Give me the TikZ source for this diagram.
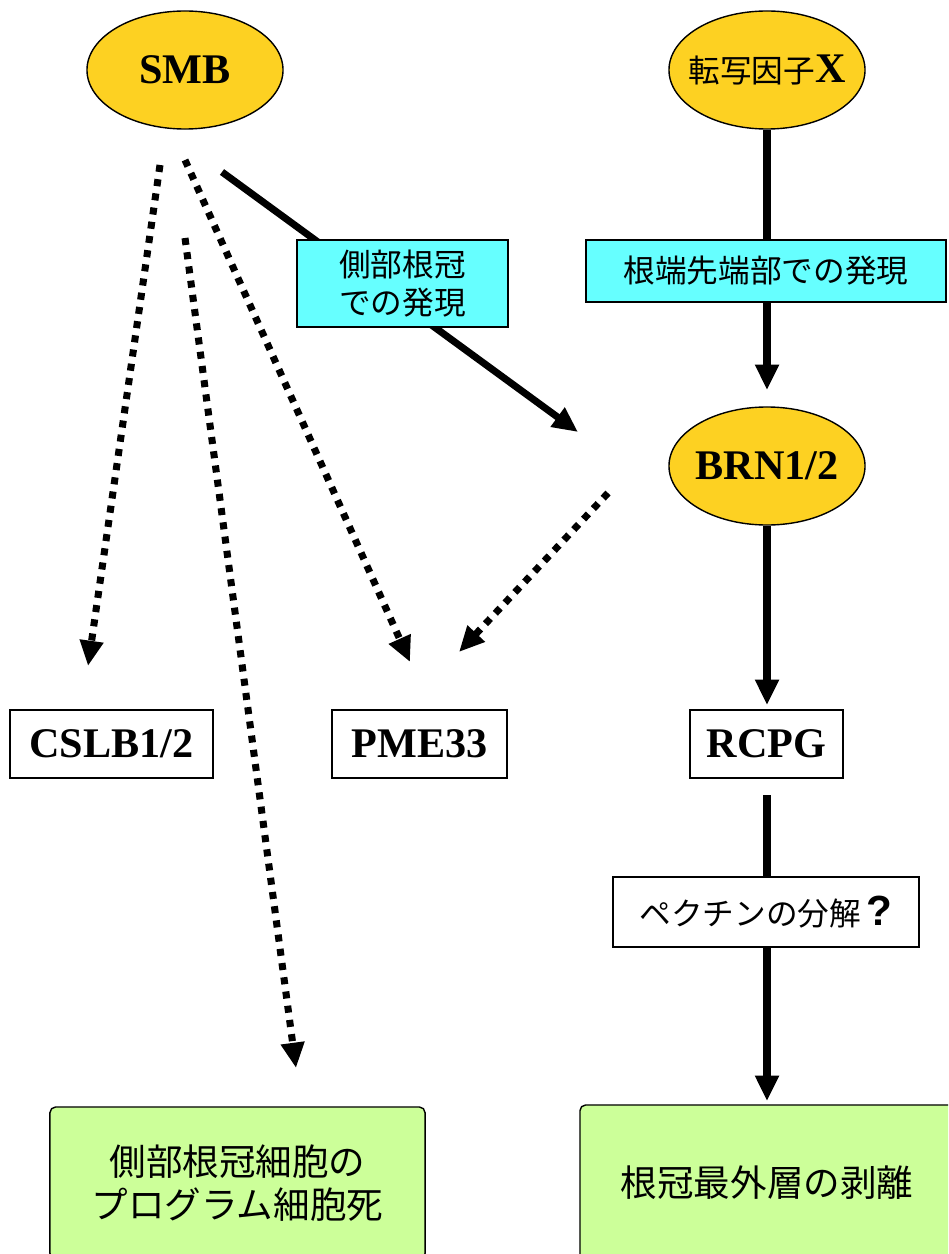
\documentclass[tikz,border=0pt]{standalone}
\usepackage{fontspec}
\setmainfont{Liberation Serif}
\newfontfamily\jp{Noto Sans CJK JP}
\newfontfamily\qsans{Liberation Sans}
\usetikzlibrary{shapes.geometric,arrows.meta}
\definecolor{gold}{HTML}{FDD122}
\definecolor{cyanbox}{HTML}{66FFFF}
\definecolor{greenbox}{HTML}{CCFF99}
\begin{document}
\begin{tikzpicture}[x=0.025cm,y=-0.025cm,
  gene/.style={ellipse, draw, line width=1pt, fill=gold, minimum width=4.9cm, minimum height=2.95cm, inner sep=0pt, font=\fontsize{30}{36}\selectfont\bfseries},
  genebox/.style={draw, line width=0.9pt, fill=white, minimum height=1.7cm, inner sep=0pt, font=\fontsize{30}{36}\selectfont\bfseries},
  expr/.style={draw, line width=2pt, fill=cyanbox, inner sep=0pt, align=center, font=\jp\fontsize{22.5}{26.5}\selectfont},
  pectin/.style={draw, line width=2pt, fill=white, inner sep=0pt, font=\jp\fontsize{22.5}{26.5}\selectfont},
  outcome/.style={draw, line width=1pt, fill=greenbox, rounded corners=4pt, inner sep=0pt, align=center, font=\jp\fontsize{26}{31}\selectfont},
  solidarrow/.style={line width=5pt, -{Triangle[length=18pt,width=16pt]}},
  dotarrow/.style={line width=5pt, dash pattern=on 5pt off 5.2pt, -{Triangle[length=18pt,width=16pt]}}
]
\useasboundingbox (0,0) rectangle (948,1254);
\clip (0,0) rectangle (948,1254);

% ellipses
\node[gene] (smb) at (185,70) {\makebox[0pt]{SMB}};
\node[gene] (tfx) at (767,70) {\makebox[0pt]{{\jp\fontsize{22.5}{27}\selectfont\mdseries 転写因子}X}};
\node[gene] (brn) at (767,466) {\makebox[0pt]{BRN1/2}};

% free connector ends
\coordinate (smbS) at (222,172);
\coordinate (smbSend) at (578,432);
\coordinate (xEnd) at (767,390);
\coordinate (brnEnd) at (767,705);
\coordinate (d1s) at (160,165);
\coordinate (d1e) at (88,666);
\coordinate (d2s) at (185,160);
\coordinate (d2e) at (410,662);
\coordinate (d3s) at (185,238);
\coordinate (d3e) at (296,1068);
\coordinate (d4s) at (608,493);
\coordinate (d4e) at (459,652);
\coordinate (rcpgS) at (767,795);
\coordinate (rcpgEnd) at (767,1101);

% solid connectors (drawn under label boxes)
\draw[solidarrow] (smbS) -- (smbSend);
\draw[solidarrow] (tfx.south) -- (xEnd);
\draw[solidarrow] (brn.south) -- (brnEnd);
\draw[solidarrow] (rcpgS) -- (rcpgEnd);

% dotted connectors
\draw[dotarrow] (d1s) -- (d1e);
\draw[dotarrow] (d2s) -- (d2e);
\draw[dotarrow] (d3s) -- (d3e);
\draw[dotarrow] (d4s) -- (d4e);

% expression boxes
\node[expr, minimum width=5.275cm, minimum height=2.175cm] (lat) at (402.5,283.5) {側部根冠\\での発現};
\node[expr, minimum width=9cm, minimum height=1.55cm] (tip) at (766,271) {根端先端部での発現};

% gene boxes
\node[genebox, minimum width=5.075cm] (cslb) at (111.5,744) {CSLB1/2};
\node[genebox, minimum width=4.375cm] (pme) at (419.5,744) {PME33};
\node[genebox, minimum width=3.825cm] (rcpg) at (766.5,744) {RCPG};

% pectin box
\node[pectin, minimum width=7.65cm, minimum height=1.75cm] (pec) at (766,912) {ペクチンの分解\hspace{4pt}{\qsans\bfseries\fontsize{30}{36}\selectfont ?}};

% outcome boxes
\node[outcome, minimum width=9.375cm, minimum height=3.8cm] (pcd) at (237.5,1183) {側部根冠細胞の\\プログラム細胞死};
\node[outcome, minimum width=9.35cm, minimum height=3.9cm] (slough) at (767,1183) {根冠最外層の剥離};
\end{tikzpicture}
\end{document}
